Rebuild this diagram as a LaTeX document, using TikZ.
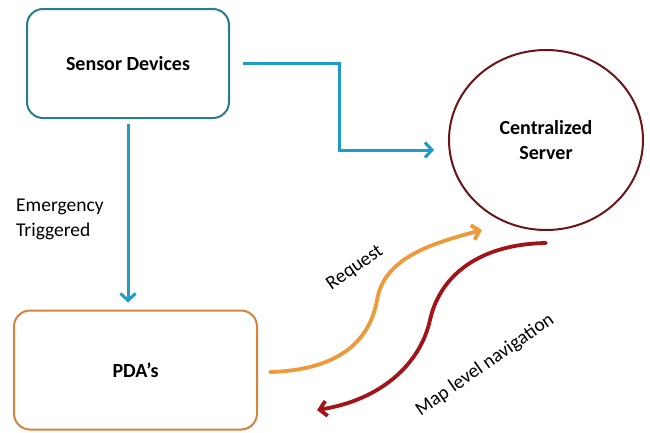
\documentclass[tikz,border=0pt]{standalone}
\usepackage{fontspec}
\setmainfont{Carlito}
\usetikzlibrary{arrows.meta,calc,shapes.geometric}
\definecolor{sensorc}{HTML}{2B7B8E}
\definecolor{bluec}{HTML}{1E9BC7}
\definecolor{pdac}{HTML}{D4843C}
\definecolor{orangec}{HTML}{EE9A3A}
\definecolor{serverc}{HTML}{6B1518}
\definecolor{redc}{HTML}{A3141A}
\tikzset{
  boxnode/.style={draw, line width=2pt, rounded corners=16pt, font=\fontsize{20}{25}\selectfont\bfseries},
  lbl/.style={inner sep=0pt, font=\fontsize{19.5}{25}\selectfont},
  bluearr/.style={draw=bluec, line width=3pt, -{Straight Barb[length=7pt,width=15pt]}},
  orangearr/.style={draw=orangec, line width=3.8pt, line cap=round, -{Straight Barb[length=7pt,width=15pt]}},
  redarr/.style={draw=redc, line width=3.8pt, line cap=round, -{Straight Barb[length=7pt,width=15pt]}},
}
\begin{document}
\begin{tikzpicture}[x=1pt,y=-1pt]
\useasboundingbox[fill=white] (0,0) rectangle (650,432);

\node[boxnode, draw=sensorc, minimum width=202pt, minimum height=109pt] (sensor) at (128,63.5) {Sensor Devices};
\node[boxnode, draw=pdac, minimum width=243pt, minimum height=119pt] (pda) at (135.5,370) {PDA’s};
\node[ellipse, draw=serverc, line width=2pt, minimum width=194pt, minimum height=180pt, align=center,
      font=\fontsize{20}{25}\selectfont\bfseries] (server) at (546,140) {Centralized\\Server};

\node[lbl, anchor=west, align=left] (emlbl) at (16,219.5) {Emergency\\Triggered};

\draw[bluearr, shorten <=5pt, shorten >=7pt] (sensor.south) -- (sensor.south |- pda.north);
\draw[bluearr, shorten <=13pt] (sensor.east) -- ++(109,0) |- ($(server.west)+(-14,10)$);

\coordinate (reqS) at (270,372);
\coordinate (reqE) at (482,230);
\coordinate (mapS) at (546,243);
\coordinate (mapE) at (317,410);

\draw[orangearr] (reqS) .. controls (340,370) and (370,340) .. (377,300)
  .. controls (384,260) and (425,245) .. (reqE);
\draw[redarr] (mapS) .. controls (480,244) and (440,275) .. (430,320)
  .. controls (420,365) and (380,400) .. (mapE);

\node[lbl, rotate=35] (reqlbl) at (355,268) {Request};
\node[lbl, rotate=35] (maplbl) at (485,365) {Map level navigation};
\end{tikzpicture}
\end{document}
